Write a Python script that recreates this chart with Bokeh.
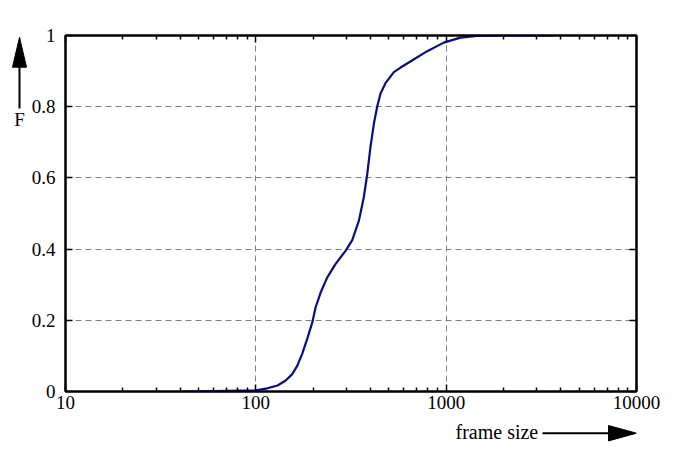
from bokeh.plotting import figure
from bokeh.layouts import row, column
from bokeh.models import FixedTicker, LinearAxis, LogAxis, Range1d
from bokeh.core.properties import value
from bokeh.embed import file_html
from bokeh.resources import INLINE

# CDF of frame sizes
frame_size = [42, 100, 115, 130, 143, 155, 165, 175, 186, 198, 206, 219, 237, 262, 296,
              321, 348, 369, 385, 400, 417, 434, 452, 480, 531, 576, 649, 795, 971, 1189,
              1455, 2000, 3700]
cdf = [0.0, 0.003, 0.009, 0.017, 0.03, 0.048, 0.072, 0.105, 0.147, 0.194, 0.236, 0.278,
       0.32, 0.358, 0.395, 0.425, 0.48, 0.545, 0.611, 0.686, 0.752, 0.80, 0.837, 0.866,
       0.897, 0.91, 0.927, 0.956, 0.98, 0.994, 0.999, 1.0, 1.0]

# ticks and labels
x_ticks = [10, 100, 1000, 10000]
x_tick_labels = ["10", "100", "1000", "10000"]
x_minor_ticks = [m * d for d in (10, 100, 1000) for m in range(2, 10)]
y_ticks = [0, 0.2, 0.4, 0.6, 0.8, 1]
y_tick_labels = ["0", "0.2", "0.4", "0.6", "0.8", "1"]
x_grid = [100, 1000]
y_grid = [0.2, 0.4, 0.6, 0.8]

FONT = "Liberation Serif"
FSIZE = "19px"

W, H = 670, 447          # whole picture
LEFT_W = 27              # strip for the "F" arrow
BOTTOM_H = 27            # strip for the "frame size" arrow
MAIN_W, MAIN_H = W - LEFT_W, H - BOTTOM_H
FRAME_L, FRAME_R = 65, 636

p = figure(width=MAIN_W, height=MAIN_H, x_axis_type="log",
           x_range=Range1d(10, 10000), y_range=Range1d(0, 1),
           output_backend="svg", toolbar_location=None,
           min_border_left=FRAME_L - LEFT_W, min_border_right=W - FRAME_R,
           min_border_top=35, min_border_bottom=MAIN_H - 391)
p.outline_line_color = "black"
p.outline_line_width = 2
p.background_fill_color = "white"
p.border_fill_color = "white"

p.line(frame_size, cdf, line_color="#0c0c82", line_width=2.2)

# dashed grid only at the inner decades / values
p.xgrid.ticker = FixedTicker(ticks=x_grid)
p.ygrid.ticker = FixedTicker(ticks=y_grid)
for g in (p.xgrid, p.ygrid):
    g.grid_line_color = "#808080"
    g.grid_line_dash = "6 4"
    g.grid_line_width = 1


def style_axis(ax, ticker, labels):
    ax.ticker = ticker
    ax.axis_line_color = "black"
    ax.axis_line_width = 2
    ax.major_tick_in = 7
    ax.major_tick_out = 0
    ax.minor_tick_in = 4
    ax.minor_tick_out = 0
    ax.major_tick_line_color = "black"
    ax.minor_tick_line_color = "black"
    ax.major_tick_line_width = 1.5
    ax.minor_tick_line_width = 1.5
    ax.major_label_text_font = FONT
    ax.major_label_text_font_size = FSIZE
    ax.major_label_text_color = "black"
    ax.major_label_overrides = labels


xt = FixedTicker(ticks=x_ticks, minor_ticks=x_minor_ticks)
yt = FixedTicker(ticks=y_ticks)

style_axis(p.xaxis[0], xt, dict(zip(x_ticks, x_tick_labels)))
p.xaxis[0].major_label_standoff = 4
style_axis(p.yaxis[0], yt, dict(zip(y_ticks, y_tick_labels)))
p.yaxis[0].major_label_standoff = 10

top = LogAxis()
style_axis(top, xt, {t: "" for t in x_ticks})
p.add_layout(top, "above")
right = LinearAxis()
style_axis(right, yt, {t: "" for t in y_ticks})
p.add_layout(right, "right")


def strip(width, height, x0, x1, y0, border_l=0, border_r=0):
    # blank figure in picture pixels (y downwards) for the axis captions
    f = figure(width=width, height=height, x_range=Range1d(x0, x1),
               y_range=Range1d(y0 + height, y0), output_backend="svg",
               toolbar_location=None, x_axis_location=None, y_axis_location=None,
               min_border=0, min_border_left=border_l, min_border_right=border_r)
    f.grid.visible = False
    f.outline_line_color = None
    f.background_fill_color = "white"
    f.border_fill_color = "white"
    return f


# "F" with an upward arrow
left = strip(LEFT_W, H, 0, LEFT_W, 0)
left.segment(x0=[19], y0=[108], x1=[19], y1=[64], line_color="black", line_width=2)
left.patch(x=[12, 19, 26], y=[66.7, 36.7, 66.7], fill_color="black", line_color="black")
left.text(x=[19], y=[119], text=["F"], text_font=value(FONT), text_font_size=FSIZE,
          text_align="center", text_baseline="middle", text_color="black")

# "frame size" with a rightward arrow; its frame lines up with the main frame
bottom = strip(MAIN_W, BOTTOM_H, FRAME_L, FRAME_R, MAIN_H,
               border_l=FRAME_L - LEFT_W, border_r=W - FRAME_R)
bottom.segment(x0=[542], y0=[432.7], x1=[610], y1=[432.7], line_color="black", line_width=2)
bottom.patch(x=[608, 636, 608], y=[425, 432.7, 440.4], fill_color="black", line_color="black")
bottom.text(x=[455], y=[431.5], text=["frame size"], text_font=value(FONT),
            text_font_size="20px", text_align="left", text_baseline="middle",
            text_color="black")

layout = row(left, column(p, bottom))

open("out.html", "w").write(file_html(layout, INLINE))
